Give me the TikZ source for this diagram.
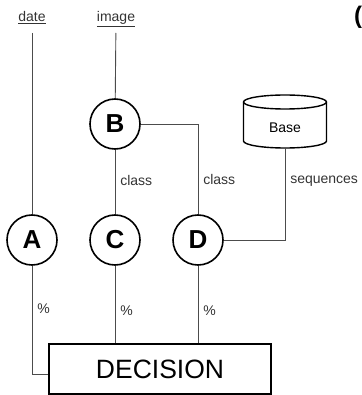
\documentclass[tikz,border=0pt]{standalone}
\usepackage{fontspec}
\setmainfont{Liberation Sans}
\usetikzlibrary{positioning}

\tikzset{
    letter/.style={draw, circle, line width=1.6pt, minimum size=50pt, inner sep=0pt,
        font=\fontsize{26}{26}\selectfont\bfseries},
    source/.style={anchor=base, inner sep=0pt, outer sep=7pt, text depth=4pt,
        text=black!80, font=\fontsize{14}{14}\selectfont},
    tag/.style={right, xshift=1.5pt, text=black!80, font=\fontsize{14}{14}\selectfont},
    wire/.style={line width=0.9pt, black!70},
}

\begin{document}
\begin{tikzpicture}[x=1pt, y=-1pt]
    \useasboundingbox (0,0) rectangle (361,395);

    %% Inputs
    \node[source] (date) at (32,22) {\underline{date}};
    \node[source] (image) at (116,22) {\underline{image}};

    % Cut-off mark at the top right
    \node[anchor=base west, inner sep=0pt, font=\fontsize{24}{24}\selectfont\bfseries] (mark) at (354,24) {(};

    %% Circles
    \node[letter] (A) at (32,240) {A};
    \node[letter] (B) at (115,124) {B};
    \node[letter] (C) at (115,240) {C};
    \node[letter] (D) at (198,240) {D};

    % Base
    \draw[line width=1.4pt, fill=white] (243.5,102) -- (243.5,141) arc[start angle=180, end angle=0, x radius=41.5, y radius=7]
        -- (326.5,102) arc[start angle=0, end angle=-180, x radius=41.5, y radius=7];
    \draw[line width=1.4pt] (243.5,102) arc[start angle=180, end angle=0, x radius=41.5, y radius=7];
    \node[font=\fontsize{14}{14}\selectfont] (base) at (285,128) {Base};
    \coordinate (base-bottom) at (285,148);

    %% Decision
    \node[draw, line width=1.4pt, minimum width=222pt, minimum height=50pt, inner sep=0pt,
        font=\fontsize{26.5}{26.5}\selectfont] (decision) at (160,369) {DECISION};

    %% Connectors
    \draw[wire] (date) -- (A);
    \draw[wire] (image) -- (B);
    \draw[wire] (B) -- (C) node[tag, pos=0.48] {class};
    \draw[wire] (B.east) -| (D.north) node[tag, pos=0.81] {class};
    \draw[wire] (base-bottom) |- (D.east) node[tag, pos=0.18] {sequences};

    % To the decision
    \draw[wire] (A.south) |- ([yshift=-5pt]decision.west) node[tag, pos=0.2] {\%};
    \draw[wire] (C.south) -- (C.south |- decision.north) node[tag, pos=0.58] {\%};
    \draw[wire] (D.south) -- (D.south |- decision.north) node[tag, pos=0.58] {\%};

\end{tikzpicture}
\end{document}
